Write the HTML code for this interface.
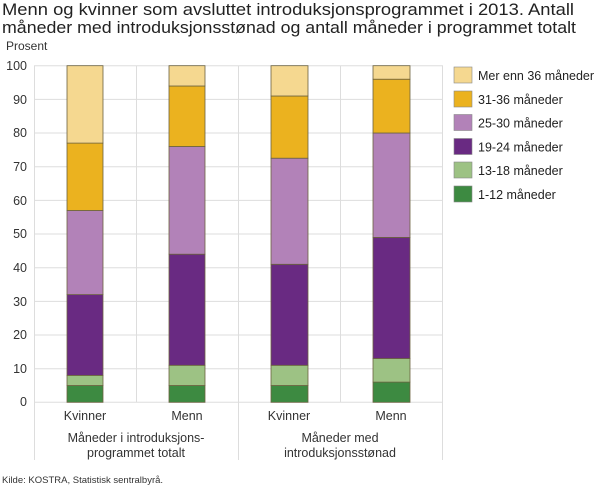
<!DOCTYPE html>
<html><head><meta charset="utf-8"><style>
body{margin:0;background:#fff;}
svg{display:block;font-family:"Liberation Sans",sans-serif;}
</style></head><body>
<svg width="610" height="488" viewBox="0 0 610 488">
<text x="2" y="15" font-size="16.5" fill="#222" textLength="572" lengthAdjust="spacingAndGlyphs">Menn og kvinner som avsluttet introduksjonsprogrammet i 2013. Antall</text>
<text x="2" y="33" font-size="16.5" fill="#222" textLength="574" lengthAdjust="spacingAndGlyphs">måneder med introduksjonsstønad og antall måneder i programmet totalt</text>
<text x="6" y="50" font-size="12" fill="#333">Prosent</text>
<g stroke="#ddd" stroke-width="1">
<line x1="34" y1="65.7" x2="443" y2="65.7"/><line x1="34" y1="99.4" x2="443" y2="99.4"/><line x1="34" y1="133" x2="443" y2="133"/><line x1="34" y1="166.7" x2="443" y2="166.7"/><line x1="34" y1="200.4" x2="443" y2="200.4"/><line x1="34" y1="234" x2="443" y2="234"/><line x1="34" y1="267.7" x2="443" y2="267.7"/><line x1="34" y1="301.4" x2="443" y2="301.4"/><line x1="34" y1="335" x2="443" y2="335"/><line x1="34" y1="368.7" x2="443" y2="368.7"/>
<line x1="34" y1="402.3" x2="443" y2="402.3"/>
<line x1="34.5" y1="65.7" x2="34.5" y2="460"/><line x1="136.5" y1="65.7" x2="136.5" y2="402"/><line x1="238.5" y1="65.7" x2="238.5" y2="460"/><line x1="340.5" y1="65.7" x2="340.5" y2="402"/><line x1="442.5" y1="65.7" x2="442.5" y2="460"/>
</g>
<g font-size="12.5" fill="#333" text-anchor="end">
<text x="27" y="70">100</text><text x="27" y="104">90</text><text x="27" y="137">80</text><text x="27" y="171">70</text><text x="27" y="205">60</text><text x="27" y="238">50</text><text x="27" y="272">40</text><text x="27" y="306">30</text><text x="27" y="339">20</text><text x="27" y="373">10</text><text x="27" y="406">0</text>
</g>
<g stroke="#6b6240" stroke-width="0.8">
<!-- bar1 -->
<rect x="67" y="385.5" width="36" height="16.8" fill="#3d8a41"/>
<rect x="67" y="375.4" width="36" height="10.1" fill="#9dc284"/>
<rect x="67" y="294.6" width="36" height="80.8" fill="#692a82"/>
<rect x="67" y="210.5" width="36" height="84.1" fill="#b282b8"/>
<rect x="67" y="143.1" width="36" height="67.4" fill="#ebb21f"/>
<rect x="67" y="65.7" width="36" height="77.4" fill="#f5d890"/>
<!-- bar2 -->
<rect x="169" y="385.5" width="36" height="16.8" fill="#3d8a41"/>
<rect x="169" y="365.3" width="36" height="20.2" fill="#9dc284"/>
<rect x="169" y="254.2" width="36" height="111.1" fill="#692a82"/>
<rect x="169" y="146.5" width="36" height="107.7" fill="#b282b8"/>
<rect x="169" y="86.0" width="36" height="60.5" fill="#ebb21f"/>
<rect x="169" y="65.7" width="36" height="20.3" fill="#f5d890"/>
<!-- bar3 -->
<rect x="271" y="385.5" width="37" height="16.8" fill="#3d8a41"/>
<rect x="271" y="365.3" width="37" height="20.2" fill="#9dc284"/>
<rect x="271" y="264.3" width="37" height="101" fill="#692a82"/>
<rect x="271" y="158.2" width="37" height="106.1" fill="#b282b8"/>
<rect x="271" y="96" width="37" height="62.2" fill="#ebb21f"/>
<rect x="271" y="65.7" width="37" height="30.3" fill="#f5d890"/>
<!-- bar4 -->
<rect x="373" y="382.1" width="37" height="20.2" fill="#3d8a41"/>
<rect x="373" y="358.5" width="37" height="23.6" fill="#9dc284"/>
<rect x="373" y="237.4" width="37" height="121.1" fill="#692a82"/>
<rect x="373" y="133" width="37" height="104.4" fill="#b282b8"/>
<rect x="373" y="79.2" width="37" height="53.8" fill="#ebb21f"/>
<rect x="373" y="65.7" width="37" height="13.5" fill="#f5d890"/>
</g>
<g font-size="12.5" fill="#333" text-anchor="middle">
<text x="85" y="420">Kvinner</text><text x="187" y="420">Menn</text><text x="289" y="420">Kvinner</text><text x="391" y="420">Menn</text>
<text x="136" y="442">Måneder i introduksjons-</text><text x="136" y="457">programmet totalt</text>
<text x="340" y="442">Måneder med</text><text x="340" y="457">introduksjonsstønad</text>
</g>
<g stroke="#888" stroke-width="0.6">
<rect x="454" y="67" width="18" height="16" fill="#f5d890"/>
<rect x="454" y="91" width="18" height="16" fill="#ebb21f"/>
<rect x="454" y="114.5" width="18" height="16" fill="#b282b8"/>
<rect x="454" y="138.5" width="18" height="16" fill="#692a82"/>
<rect x="454" y="162" width="18" height="16" fill="#9dc284"/>
<rect x="454" y="186" width="18" height="16" fill="#3d8a41"/>
</g>
<g font-size="12.5" fill="#222">
<text x="478" y="80">Mer enn 36 måneder</text>
<text x="478" y="104">31-36 måneder</text>
<text x="478" y="127.5">25-30 måneder</text>
<text x="478" y="151.5">19-24 måneder</text>
<text x="478" y="175">13-18 måneder</text>
<text x="478" y="199">1-12 måneder</text>
</g>
<text x="2" y="483" font-size="9.5" fill="#333">Kilde: KOSTRA, Statistisk sentralbyrå.</text>
</svg>
</body></html>
